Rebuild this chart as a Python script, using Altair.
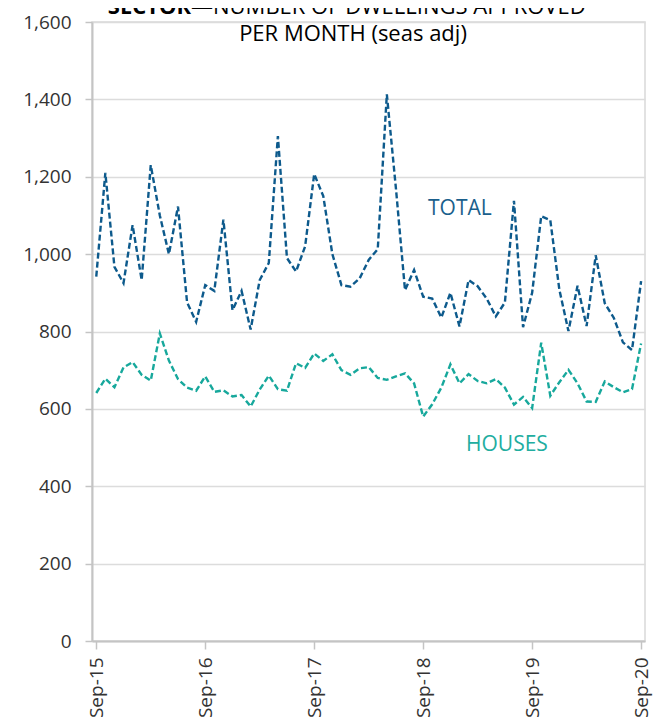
import altair as alt
import pandas as pd

# ---- data ----
months = list(range(61))  # Sep-15 .. Sep-20, monthly
total = [942, 1210, 967, 925, 1075, 933, 1230, 1100, 1000, 1123, 875, 825,
         920, 905, 1089, 855, 905, 805, 933, 977, 1305, 990, 955, 1020,
         1207, 1150, 1000, 920, 916, 937, 985, 1013, 1413, 1170, 907, 959,
         890, 885, 836, 900, 813, 933, 917, 885, 839, 875, 1138, 811,
         900, 1098, 1088, 908, 801, 918, 814, 997, 873, 835, 772, 752, 930]
houses = [641, 678, 656, 707, 721, 688, 673, 795, 725, 677, 655, 647,
          684, 644, 648, 632, 636, 606, 650, 686, 651, 647, 718, 706,
          743, 724, 741, 700, 688, 705, 708, 680, 675, 684, 692, 666,
          580, 612, 655, 715, 666, 690, 672, 666, 677, 655, 611, 631,
          602, 771, 634, 669, 701, 666, 619, 618, 671, 656, 643, 651, 769]
series_names = ["TOTAL", "HOUSES"]
series_colors = ["#0d5a8c", "#17a89c"]
tick_months = [0, 12, 24, 36, 48, 60]
tick_labels = ["Sep-15", "Sep-16", "Sep-17", "Sep-18", "Sep-19", "Sep-20"]
y_ticks = [0, 200, 400, 600, 800, 1000, 1200, 1400, 1600]
title_bold = "SECTOR\u2014"
title_rest = "NUMBER OF DWELLINGS APPROVED"
title_line2 = "PER MONTH (seas adj)"

df = pd.DataFrame({
    "m": months * 2,
    "value": total + houses,
    "series": ["TOTAL"] * len(total) + ["HOUSES"] * len(houses),
})

FONT = "Open Sans"
label_expr = "[" + ",".join("'%s'" % t for t in tick_labels) + "][round(datum.value/12)]"

x = alt.X("m:Q",
          scale=alt.Scale(domain=[-0.47, 60.43], nice=False, zero=False),
          axis=alt.Axis(values=tick_months, labelExpr=label_expr, labelAngle=-90,
                        grid=False, tickSize=8, labelPadding=8, title=None))
y = alt.Y("value:Q",
          scale=alt.Scale(domain=[0, 1600], nice=False),
          axis=alt.Axis(values=y_ticks, format=",d", grid=True, tickSize=7,
                        labelPadding=14, title=None))
color = alt.Color("series:N",
                  scale=alt.Scale(domain=series_names, range=series_colors),
                  legend=None)

lines = alt.Chart(df).mark_line(strokeDash=[6, 3], strokeWidth=2.4).encode(
    x=x, y=y, color=color, detail="series:N")

def label(text, px, py, col, size, weight="normal", align="left"):
    return alt.Chart(pd.DataFrame({"t": [text]})).mark_text(
        font=FONT, fontSize=size, fontWeight=weight, color=col,
        align=align, baseline="alphabetic").encode(
        text="t:N", x=alt.value(px), y=alt.value(py))

ann = [
    label(title_bold, 121, -8, "#000000", 22, "bold", "right"),
    label(title_rest, 121, -8, "#000000", 22, "normal", "left"),
    label(title_line2, 261, 19, "#000000", 22, "normal", "center"),
    label("TOTAL", 336, 193, "#1a5f8c", 21),
    label("HOUSES", 374, 429, "#22ad9f", 21),
]

chart = alt.layer(lines, *ann).properties(
    width=553, height=619,
    padding={"left": 84, "top": 14, "right": 10, "bottom": 86},
    autosize=alt.AutoSizeParams(type="none"),
).configure_view(
    stroke="#d9d9d9", strokeWidth=1.5
).configure_axis(
    labelFont=FONT, labelFontSize=19, labelColor="#333333",
    domainColor="#c4c4c4", domainWidth=2,
    tickColor="#c4c4c4", tickWidth=1.5,
    gridColor="#dcdcdc", gridWidth=1.5,
)

chart.save("out.html", embed_options={"renderer": "svg", "actions": False})
